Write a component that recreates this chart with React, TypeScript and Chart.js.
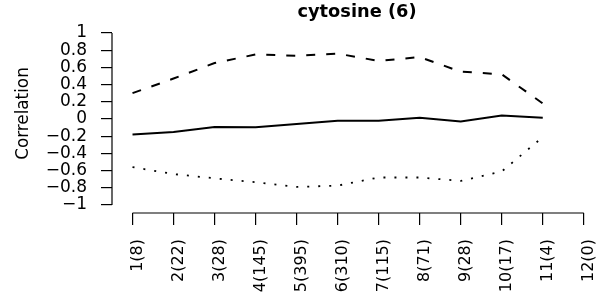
import React, { useEffect, useRef } from 'react';
import { Chart, registerables } from 'chart.js';

Chart.register(...registerables);

const categories = ['1(8)', '2(22)', '3(28)', '4(145)', '5(395)', '6(310)', '7(115)', '8(71)', '9(28)', '10(17)', '11(4)', '12(0)'];
const meanCorr = [-0.18, -0.15, -0.093, -0.097, -0.058, -0.02, -0.02, 0.015, -0.03, 0.04, 0.015];
const upperCorr = [0.30, 0.47, 0.65, 0.75, 0.735, 0.76, 0.675, 0.72, 0.55, 0.52, 0.18];
const lowerCorr = [-0.56, -0.64, -0.69, -0.735, -0.79, -0.775, -0.68, -0.68, -0.72, -0.61, -0.21];
const yTicks = [-1, -0.8, -0.6, -0.4, -0.2, 0, 0.2, 0.4, 0.6, 0.8, 1];
const titleText = 'cytosine (6)';
const yTitle = 'Correlation';

const FONT = "'DejaVu Sans', 'Liberation Sans', Arial, sans-serif";

function fmtY(v: number): string {
  const r = Math.round(v * 10) / 10;
  if (r === 0) return '0';
  const s = Math.abs(r) === 1 ? '1' : Math.abs(r).toFixed(1);
  return (r < 0 ? '\u2212' : '') + s;
}

const rStyle = {
  id: 'rStyle',
  afterDraw(chart: any) {
    const { ctx, scales } = chart;
    const x = scales.x;
    const y = scales.y;
    ctx.save();
    ctx.strokeStyle = '#000';
    ctx.lineWidth = 1.2;
    const xb = chart.chartArea.bottom;
    ctx.beginPath();
    ctx.moveTo(x.getPixelForValue(1), xb);
    ctx.lineTo(x.getPixelForValue(categories.length), xb);
    ctx.stroke();
    const yl = chart.chartArea.left;
    ctx.beginPath();
    ctx.moveTo(yl, y.getPixelForValue(yTicks[0]));
    ctx.lineTo(yl, y.getPixelForValue(yTicks[yTicks.length - 1]));
    ctx.stroke();
    ctx.fillStyle = '#000';
    // x tick labels (rotated, reading upward, ending near the axis)
    ctx.font = `16px ${FONT}`;
    ctx.textAlign = 'right';
    ctx.textBaseline = 'middle';
    categories.forEach((lab, i) => {
      const px = x.getPixelForValue(i + 1);
      ctx.save();
      ctx.translate(px + 5, xb + 26);
      ctx.rotate(-Math.PI / 2);
      ctx.fillText(lab, 0, 0);
      ctx.restore();
    });
    // title
    ctx.font = `bold 17.8px ${FONT}`;
    ctx.textAlign = 'center';
    ctx.textBaseline = 'alphabetic';
    ctx.fillText(titleText, 357, 17);
    // y-axis title
    ctx.font = `16.8px ${FONT}`;
    ctx.translate(24, 113.5);
    ctx.rotate(-Math.PI / 2);
    ctx.textBaseline = 'middle';
    ctx.fillText(yTitle, 0, 0);
    ctx.restore();
  },
};

export default function App() {
  const ref = useRef<HTMLCanvasElement>(null);

  useEffect(() => {
    if (!ref.current) return;
    const mk = (vals: number[]) => vals.map((v, i) => ({ x: i + 1, y: v }));
    const chart = new Chart(ref.current, {
      type: 'line',
      data: {
        datasets: [
          { data: mk(upperCorr), borderColor: '#000', borderWidth: 2, borderDash: [9, 11], pointRadius: 0, tension: 0, fill: false },
          { data: mk(meanCorr), borderColor: '#000', borderWidth: 2, pointRadius: 0, tension: 0, fill: false },
          { data: mk(lowerCorr), borderColor: '#000', borderWidth: 1.8, borderDash: [2, 9], pointRadius: 0, tension: 0, fill: false },
        ],
      },
      options: {
        responsive: false,
        animation: false,
        devicePixelRatio: 1,
        layout: { padding: { top: 26, right: 5, left: 0, bottom: 0 } },
        plugins: { legend: { display: false }, tooltip: { enabled: false }, title: { display: false } },
        scales: {
          x: {
            type: 'linear',
            min: 0.5,
            max: 12.2,
            afterBuildTicks: (s: any) => {
              s.ticks = categories.map((_, i) => ({ value: i + 1 }));
            },
            afterFit: (s: any) => {
              s.height = 92;
              s.paddingLeft = 0;
              s.paddingRight = 0;
            },
            grid: { drawOnChartArea: false, drawTicks: true, tickLength: 12, color: '#000', lineWidth: 1.2 },
            border: { display: false },
            ticks: { display: false, autoSkip: false },
          },
          y: {
            type: 'linear',
            min: -1.093,
            max: 1.081,
            afterBuildTicks: (s: any) => {
              s.ticks = yTicks.map((v) => ({ value: v }));
            },
            afterFit: (s: any) => {
              s.width = 112;
              s.paddingTop = 0;
              s.paddingBottom = 0;
            },
            grid: { drawOnChartArea: false, drawTicks: true, tickLength: 11, color: '#000', lineWidth: 1.2 },
            border: { display: false },
            ticks: {
              autoSkip: false,
              padding: 14,
              color: '#000',
              font: { size: 17, family: FONT },
              callback: (v: any) => fmtY(Number(v)),
            },
          },
        },
      },
      plugins: [rStyle],
    });
    return () => chart.destroy();
  }, []);

  return (
    <div style={{ position: 'absolute', left: 0, top: 0, width: 597, height: 305, background: '#fff' }}>
      <canvas ref={ref} width={597} height={305} />
    </div>
  );
}
